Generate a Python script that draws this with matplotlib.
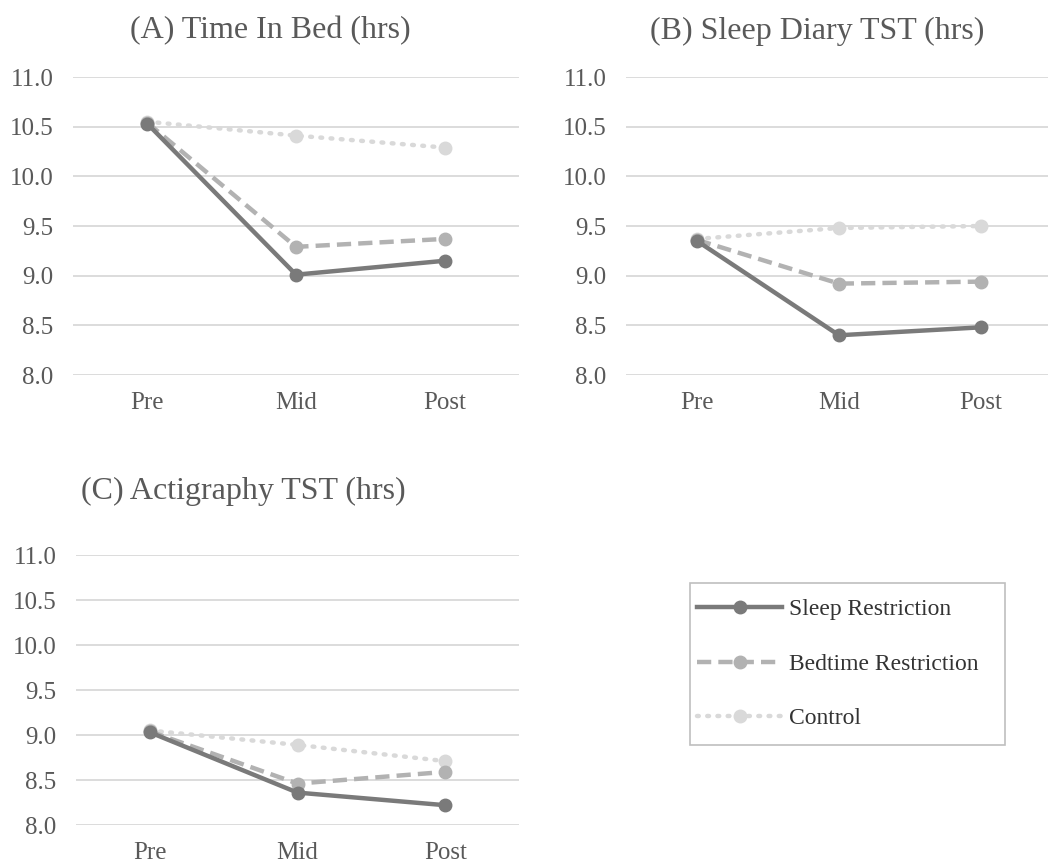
import matplotlib
matplotlib.use("Agg")
import matplotlib.pyplot as plt
from matplotlib.lines import Line2D
from matplotlib.patches import Rectangle

plt.rcParams['font.family'] = ['Liberation Serif', 'DejaVu Serif']

# ---- data ----
timepoints = ["Pre", "Mid", "Post"]
groups = ["Sleep Restriction", "Bedtime Restriction", "Control"]

time_in_bed = {
    "Sleep Restriction": [10.53, 9.01, 9.15],
    "Bedtime Restriction": [10.54, 9.29, 9.37],
    "Control": [10.55, 10.41, 10.29],
}
diary_tst = {
    "Sleep Restriction": [9.35, 8.40, 8.48],
    "Bedtime Restriction": [9.36, 8.92, 8.94],
    "Control": [9.37, 9.48, 9.50],
}
acti_tst = {
    "Sleep Restriction": [9.03, 8.36, 8.22],
    "Bedtime Restriction": [9.04, 8.46, 8.59],
    "Control": [9.05, 8.89, 8.71],
}
yticks = [8.0, 8.5, 9.0, 9.5, 10.0, 10.5, 11.0]

# ---- styles ----
styles = {
    "Sleep Restriction": dict(color="#7a7a7a", ls="-", lw=3.2, zorder=4),
    "Bedtime Restriction": dict(color="#b2b2b2", ls=(0, (3.2, 1.6)), lw=3.2, zorder=3),
    "Control": dict(color="#d9d9d9", ls=(0, (0.4, 1.9)), lw=3.2, zorder=2,
                    dash_capstyle="round"),
}
text_col = "#595959"
grid_col = "#d9d9d9"

W, H = 1048, 863
fig = plt.figure(figsize=(W / 100, H / 100), dpi=100)


def px_axes(x0, y0, x1, y1):
    return fig.add_axes([x0 / W, 1 - y1 / H, (x1 - x0) / W, (y1 - y0) / H])


def draw_panel(ax, data):
    for g in groups:
        st = styles[g]
        ax.plot(range(3), data[g], color=st["color"], ls=st["ls"], lw=st["lw"],
                zorder=st["zorder"], marker="o", ms=9, mec=st["color"],
                solid_capstyle="round",
                dash_capstyle=st.get("dash_capstyle", "butt"))
    ax.set_xlim(-0.5, 2.5)
    ax.set_ylim(8.0, 11.0)
    ax.set_yticks(yticks)
    ax.set_yticklabels([f"{v:.1f}" for v in yticks])
    ax.set_xticks(range(3))
    ax.set_xticklabels(timepoints)
    ax.yaxis.grid(True, color=grid_col, lw=1.3, zorder=0)
    for s in ax.spines.values():
        s.set_visible(False)
    ax.tick_params(length=0, labelsize=18, colors=text_col, pad=14)
    ax.tick_params(axis="x", pad=12)
    ax.set_axisbelow(True)
    ax.patch.set_alpha(0)


ax_a = px_axes(73, 77, 519, 375)
draw_panel(ax_a, time_in_bed)
fig.text(270 / W, 1 - 31 / H, "(A) Time In Bed (hrs)", ha="center", va="center",
         fontsize=23, color=text_col)

ax_b = px_axes(626, 77, 1052, 375)
draw_panel(ax_b, diary_tst)
fig.text(817 / W, 1 - 31 / H, "(B) Sleep Diary TST (hrs)", ha="center", va="center",
         fontsize=23, color=text_col)

ax_c = px_axes(76, 555, 519, 825)
draw_panel(ax_c, acti_tst)
fig.text(243 / W, 1 - 491 / H, "(C) Actigraphy TST (hrs)", ha="center", va="center",
         fontsize=23, color=text_col)

# legend box
fig.patches.append(Rectangle((690 / W, 1 - 745 / H), 315 / W, 162 / H,
                             transform=fig.transFigure, fill=False,
                             edgecolor="#bfbfbf", lw=1.2))
handles = [Line2D([0], [0], color=styles[g]["color"], ls=styles[g]["ls"],
                  lw=styles[g]["lw"], marker="o", ms=9, mec=styles[g]["color"],
                  dash_capstyle=styles[g].get("dash_capstyle", "butt"))
           for g in groups]
leg = fig.legend(handles, groups, loc="center left",
                 bbox_to_anchor=(697 / W, 1 - 664 / H),
                 frameon=False, fontsize=17, handlelength=3.6,
                 labelspacing=1.4, borderpad=0, handletextpad=0.3,
                 borderaxespad=0)
for t in leg.get_texts():
    t.set_color("#333333")

fig.savefig("out.png", dpi=100)
